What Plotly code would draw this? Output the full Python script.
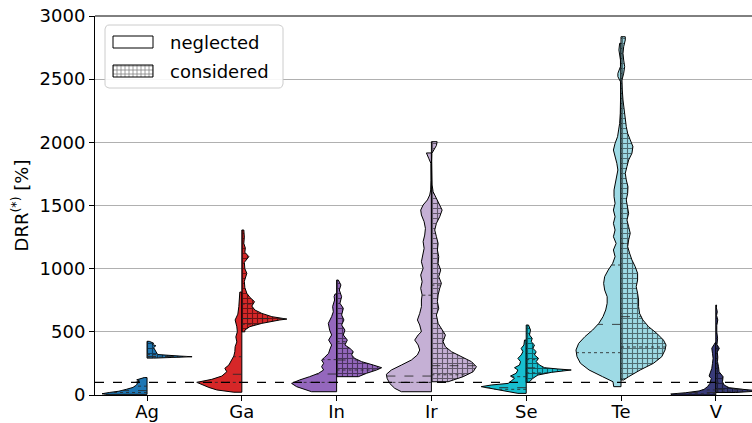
import numpy as np
import plotly.graph_objects as go

categories = ["Ag", "Ga", "In", "Ir", "Se", "Te", "V"]
colors = ["#1f77b4", "#d62728", "#9467bd", "#c5b0d5", "#17becf", "#9edae5", "#393b79"]
y_ticks = [0, 500, 1000, 1500, 2000, 2500, 3000]
reference_value = 100
legend_labels = ["neglected", "considered"]

# density profiles: (DRR value, relative density)
ag_neglected = [(5, 44), (10, 48), (20, 40), (30, 30), (45, 22), (60, 15), (75, 12), (90, 10), (100, 12),
                (110, 8), (120, 11), (130, 7), (138, 3)]
ag_considered = [(292, 6), (297, 20), (303, 41), (308, 30), (313, 14), (320, 10), (330, 9), (345, 8), (360, 7),
                 (375, 6), (390, 8), (400, 5), (410, 6), (420, 4), (425, 2)]
ga_neglected = [(22, 8), (40, 25), (60, 33), (80, 40), (100, 45), (124, 30), (150, 20), (184, 15), (211, 17),
                (237, 13), (277, 10), (309, 8), (343, 7), (382, 6.7), (420, 5), (460, 6), (500, 4.5), (540, 5),
                (594, 6.7), (640, 4), (700, 3), (760, 2.5), (815, 2)]
ga_considered = [(500, 3), (514, 3), (541, 8), (567, 20), (594, 38), (601, 45), (620, 30), (646, 20), (673, 13),
                 (704, 10), (739, 12.7), (773, 8), (805, 5), (850, 3), (900, 2.5), (963, 5), (1000, 3),
                 (1050, 2.5), (1095, 7), (1130, 3), (1163, 3.5), (1200, 2), (1250, 2.5), (1306, 2)]
in_neglected = [(26, 25), (40, 30), (66, 40), (92, 45), (119, 37), (145, 27), (172, 18), (198, 13), (224, 15),
                (251, 13), (277, 15), (298, 12), (330, 8), (356, 7), (396, 5), (435, 8), (475, 5), (514, 7),
                (567, 8.3), (620, 5), (659, 3.3), (700, 4), (752, 2), (780, 2.5), (800, 1.5)]
in_considered = [(145, 21.7), (172, 30), (198, 40), (216, 45), (237, 36.7), (264, 25), (290, 18), (317, 15),
                 (343, 16.7), (369, 13.3), (396, 8.3), (435, 10.7), (475, 6.7), (514, 8.3), (554, 5), (594, 7.3),
                 (633, 5), (686, 6.7), (726, 3.3), (778, 5), (831, 2.7), (871, 4.3), (910, 1.7)]
ir_neglected = [(26, 30), (53, 36.7), (92, 41.7), (132, 44.3), (164, 45), (198, 40), (237, 30), (277, 20),
                (317, 14), (356, 11.7), (396, 13.3), (435, 16.7), (475, 13.3), (501, 10), (554, 11.7), (594, 14),
                (646, 11.7), (699, 10), (752, 10), (792, 9.3), (844, 10.7), (897, 9.3), (950, 10.7), (1003, 8.3),
                (1055, 10), (1108, 8.3), (1161, 7.3), (1214, 8.3), (1266, 6.7), (1319, 6), (1372, 7.3),
                (1425, 10), (1464, 10.7), (1504, 8.3), (1544, 4), (1583, 1.7), (1623, 0.7), (1700, 0.4),
                (1780, 0.3), (1833, 0.5), (1870, 2.5), (1900, 4), (1916, 5)]
ir_considered = [(105, 16.7), (145, 31.7), (184, 41.7), (224, 45), (264, 40), (303, 30), (343, 20), (382, 14),
                 (422, 11.7), (475, 14), (514, 10.7), (567, 6.7), (633, 5), (686, 7.3), (739, 6), (792, 6.7),
                 (844, 8.3), (884, 10), (937, 7.3), (989, 9.3), (1042, 6.7), (1095, 7.3), (1148, 6), (1200, 6.7),
                 (1253, 5), (1306, 3.3), (1359, 5), (1411, 8.3), (1464, 10.7), (1504, 8.3), (1557, 5),
                 (1609, 1.7), (1662, 0.7), (1750, 0.3), (1850, 0.3), (1913, 0.5), (1950, 3), (1975, 5),
                 (2005, 5.7)]
se_neglected = [(13, 8.3), (32, 21.7), (53, 38), (66, 45), (79, 35), (92, 18), (111, 15), (132, 11.7),
                (150, 15.7), (172, 10), (198, 8.3), (216, 11.7), (237, 6.7), (264, 5.7), (290, 8.3), (317, 5),
                (343, 3.3), (369, 5), (396, 2.3), (435, 1.7)]
se_considered = [(100, 3), (105, 3.3), (132, 6.7), (158, 11.7), (179, 25), (192, 41.7), (198, 45), (206, 31.7),
                 (216, 18.3), (237, 13.3), (264, 10), (290, 12.3), (317, 8.3), (343, 10), (369, 6.7), (396, 8.3),
                 (422, 5), (448, 6), (475, 3.3), (514, 4.3), (554, 2.3)]
te_neglected = [(66, 7), (105, 7.7), (145, 17.7), (198, 30.7), (251, 39), (303, 42.3), (356, 43.3), (409, 40.7),
                (462, 34.7), (514, 27.3), (567, 21.3), (620, 17.3), (673, 14.7), (726, 13.3), (778, 13.3),
                (831, 15.7), (884, 16.7), (937, 15.7), (989, 12.3), (1042, 8), (1095, 5.7), (1148, 7.3),
                (1200, 4.7), (1253, 7.3), (1306, 5.7), (1359, 7.3), (1411, 5.7), (1464, 7.3), (1517, 5.7),
                (1570, 6.7), (1623, 6.7), (1676, 5.7), (1728, 4.7), (1781, 3), (1834, 4), (1887, 5.7),
                (1939, 7.3), (1992, 5.7), (2045, 3.3), (2098, 2.3), (2150, 1.3), (2229, 0.7), (2309, 0.3),
                (2414, 0.3), (2480, 0.5), (2520, 3), (2546, 3), (2600, 0.5), (2651, 0.5), (2700, 1.5),
                (2731, 2), (2784, 1.3)]
te_considered = [(119, 2.7), (145, 7.7), (198, 19.3), (251, 32.7), (303, 41), (356, 44.3), (396, 45.3),
                 (435, 42.7), (488, 36), (541, 27.7), (594, 22), (646, 18.7), (699, 17.7), (752, 17.7),
                 (805, 16.7), (857, 15.3), (910, 16.7), (963, 16.7), (1016, 14.3), (1069, 11), (1121, 8.7),
                 (1174, 6.7), (1227, 7.7), (1280, 9.3), (1332, 7.7), (1385, 6), (1438, 7.7), (1491, 6.7),
                 (1544, 5.3), (1596, 6.7), (1649, 7), (1702, 5.3), (1755, 4.3), (1808, 6), (1860, 7.7),
                 (1913, 11), (1966, 12), (2019, 9.3), (2071, 6.7), (2124, 5.3), (2177, 4.3), (2229, 3.7),
                 (2282, 2.7), (2335, 2), (2414, 1.3), (2493, 1), (2546, 2.7), (2599, 3.7), (2651, 2.7),
                 (2704, 2), (2757, 2.7), (2810, 4.3), (2836, 4.3)]
v_neglected = [(0, 43), (8, 45), (18, 30), (32, 16.7), (45, 11.7), (66, 8.3), (90, 6), (111, 5), (130, 4.5),
               (150, 6.7), (180, 5), (210, 4), (250, 3.3), (290, 2.7), (330, 3.3), (370, 4), (400, 1.7),
               (420, 0.5)]
v_considered = [(20, 20), (32, 45), (45, 26.7), (58, 13.3), (79, 8.3), (105, 6.7), (145, 7.3), (184, 3.3),
                (224, 2.7), (264, 1.7), (300, 2), (340, 1.5), (369, 3.5), (400, 1.2), (448, 1.8), (500, 1),
                (550, 1), (594, 2), (630, 0.8), (659, 1.5), (690, 0.6), (712, 0.8)]

# quartiles (Q1, median, Q3)
quartiles_neglected = [(20, 35, 70), (100, 164, 303), (100, 166, 280), (100, 150, 790), (45, 58, 145),
                       (335, 559, 1029), (10, 20, 40)]
quartiles_considered = [(300, 305, 320), (560, 605, 720), (198, 277, 422), (160, 232, 870), (175, 215, 280),
                        (380, 620, 1200), (30, 45, 100)]

neglected = [ag_neglected, ga_neglected, in_neglected, ir_neglected, se_neglected, te_neglected, v_neglected]
considered = [ag_considered, ga_considered, in_considered, ir_considered, se_considered, te_considered,
              v_considered]

HALF_WIDTH = 0.475
FONT = "DejaVu Sans"
HATCH = dict(shape="+", fgcolor="black", size=5, solidity=0.4)

# plot area in pixels (for the hand-drawn legend overlay)
PL, PR, PT, PB = 95, 752, 16, 395

fig = go.Figure()


def half_shape(profile, center, side):
    vals = np.array([p[0] for p in profile], dtype=float)
    dens = np.array([p[1] for p in profile], dtype=float)
    w = dens / dens.max() * HALF_WIDTH
    xs = list(center + side * w) + [center, center]
    ys = list(vals) + [vals[-1], vals[0]]
    xs.append(xs[0])
    ys.append(ys[0])
    return xs, ys, vals, w


med_x, med_y, q_x, q_y = [], [], [], []
for i, cat in enumerate(categories):
    for side, prof, quarts in ((-1, neglected[i], quartiles_neglected[i]),
                               (1, considered[i], quartiles_considered[i])):
        xs, ys, vals, w = half_shape(prof, i, side)
        kw = dict(x=xs, y=ys, mode="lines", fill="toself", fillcolor=colors[i],
                  line=dict(color="black", width=1), showlegend=False, hoverinfo="skip")
        if side == 1:
            kw["fillpattern"] = dict(HATCH, bgcolor=colors[i])
        fig.add_trace(go.Scatter(**kw))
        for k, q in enumerate(quarts):
            wq = float(np.interp(q, vals, w))
            seg_x = [i, i + side * wq, None]
            seg_y = [q, q, None]
            if k == 1:
                med_x += seg_x
                med_y += seg_y
            else:
                q_x += seg_x
                q_y += seg_y

fig.add_trace(go.Scatter(x=med_x, y=med_y, mode="lines",
                         line=dict(color="rgba(40,40,40,0.85)", width=1, dash="dash"),
                         showlegend=False, hoverinfo="skip"))
fig.add_trace(go.Scatter(x=q_x, y=q_y, mode="lines",
                         line=dict(color="rgba(40,40,40,0.85)", width=1, dash="dot"),
                         showlegend=False, hoverinfo="skip"))

# reference line at 100 %
fig.add_shape(type="line", xref="paper", x0=0, x1=1, yref="y", y0=reference_value, y1=reference_value,
              line=dict(color="black", width=1.2, dash="dash"), layer="above")
# top spine
fig.add_shape(type="line", xref="paper", x0=0, x1=1, yref="paper", y0=1, y1=1,
              line=dict(color="black", width=1), layer="above")


# ---- legend drawn on a pixel-coordinate overlay axis ----
def rounded_box(x0, y0, x1, y1, r):
    xs, ys = [], []
    corners = [(x1 - r, y0 + r, -90, 0), (x1 - r, y1 - r, 0, 90), (x0 + r, y1 - r, 90, 180),
               (x0 + r, y0 + r, 180, 270)]
    for cx, cy, a0, a1 in corners:
        for a in np.linspace(np.radians(a0), np.radians(a1), 5):
            xs.append(cx + r * np.cos(a))
            ys.append(cy + r * np.sin(a))
    xs.append(xs[0])
    ys.append(ys[0])
    return xs, ys


bx, by = rounded_box(105, 25, 283, 88, 4)
fig.add_trace(go.Scatter(x=bx, y=by, xaxis="x2", yaxis="y2", mode="lines", fill="toself",
                         fillcolor="rgba(255,255,255,0.9)", line=dict(color="#cccccc", width=1),
                         showlegend=False, hoverinfo="skip"))
fig.add_trace(go.Scatter(x=[113, 153, 153, 113, 113], y=[36, 36, 48, 48, 36], xaxis="x2", yaxis="y2",
                         mode="lines", fill="toself", fillcolor="white", line=dict(color="black", width=1),
                         showlegend=False, hoverinfo="skip"))
fig.add_trace(go.Scatter(x=[113, 153, 153, 113, 113], y=[65, 65, 77, 77, 65], xaxis="x2", yaxis="y2",
                         mode="lines", fill="toself", fillcolor="white",
                         fillpattern=dict(shape="+", fgcolor="black", bgcolor="white", size=4, solidity=0.35),
                         line=dict(color="black", width=1), showlegend=False, hoverinfo="skip"))
for lab, ypix in zip(legend_labels, (42, 71)):
    fig.add_annotation(x=168, y=ypix, xref="x2", yref="y2", text=lab, showarrow=False, xanchor="left",
                       yanchor="middle", font=dict(size=18, family=FONT, color="black"))

fig.update_layout(
    width=752, height=423,
    margin=dict(l=PL, r=752 - PR, t=PT, b=423 - PB),
    paper_bgcolor="white", plot_bgcolor="white",
    font=dict(family=FONT, size=18, color="black"),
    showlegend=False,
    xaxis=dict(
        range=[-0.549, 6.382], tickmode="array", tickvals=list(range(len(categories))), ticktext=categories,
        showgrid=False, zeroline=False, showline=True, linecolor="black", linewidth=1, automargin=False,
        ticks="outside", ticklen=5, tickcolor="black", tickfont=dict(size=18, family=FONT),
        ticklabelstandoff=-5,
    ),
    yaxis=dict(
        range=[0, 3000], tickmode="array", tickvals=y_ticks, ticktext=[str(t) for t in y_ticks],
        showgrid=True, gridcolor="#b0b0b0", gridwidth=1, zeroline=False, showline=True, linecolor="black",
        linewidth=1, ticks="outside", ticklen=5, tickcolor="black", tickfont=dict(size=18, family=FONT),
        automargin=False,
        title=dict(text="DRR<sup>(*)</sup> [%]", font=dict(size=18, family=FONT), standoff=6),
    ),
    xaxis2=dict(overlaying="x", range=[PL, PR], visible=False, fixedrange=True, automargin=False),
    yaxis2=dict(overlaying="y", range=[PB, PT], visible=False, fixedrange=True, automargin=False),
)

fig.write_html("out.html", config={"displayModeBar": False},
               post_script="document.body.style.margin='0';")
